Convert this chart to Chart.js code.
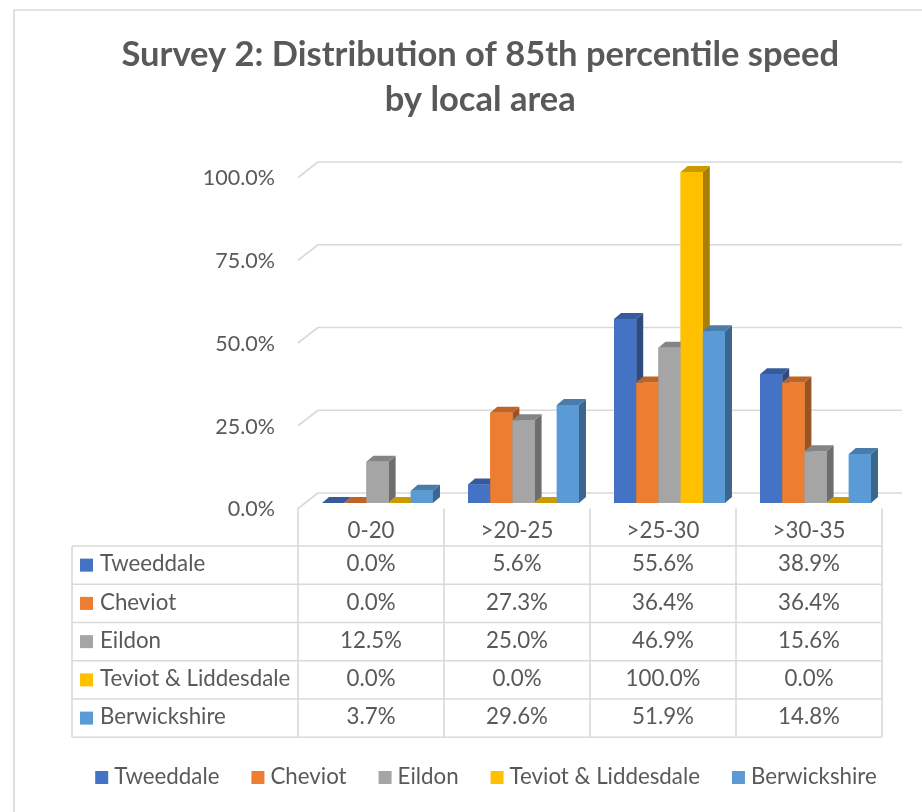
<!DOCTYPE html>
<html>
<head>
<meta charset="utf-8">
<script src="https://cdn.jsdelivr.net/npm/chart.js@4.4.1/dist/chart.umd.min.js"></script>
<style>
  html, body { margin: 0; padding: 0; background: #ffffff; }
  #wrap { position: relative; width: 922px; height: 812px; }
  canvas { display: block; }
</style>
</head>
<body>
<div id="wrap"><canvas id="chart" width="922" height="812"></canvas></div>
<script>
// Speed bands (mph) and share of sites per local area, in percent
const categories = ['0-20', '>20-25', '>25-30', '>30-35'];
const seriesNames = ['Tweeddale', 'Cheviot', 'Eildon', 'Teviot & Liddesdale', 'Berwickshire'];
const tweeddale = [0.0, 5.6, 55.6, 38.9];
const cheviot = [0.0, 27.3, 36.4, 36.4];
const eildon = [12.5, 25.0, 46.9, 15.6];
const teviotLiddesdale = [0.0, 0.0, 100.0, 0.0];
const berwickshire = [3.7, 29.6, 51.9, 14.8];
const yTicks = [0, 25, 50, 75, 100];
const seriesColors = ['#4472C4', '#ED7D31', '#A5A5A5', '#FFC000', '#5B9BD5'];

const seriesValues = [tweeddale, cheviot, eildon, teviotLiddesdale, berwickshire];

const TEXT = '#595959';
const LINE = '#d9d9d9';
const FONT = 'Lato, "Open Sans", sans-serif';

// depth of each column, and offsets of the front / back walls from the bar plane
const DEPTH = { dx: 7, dy: 6 };
const FRONT = { dx: -6.5, dy: 5.5 };
const BACK = { dx: 13.5, dy: -10 };

function shade(hex, f) {
  const n = parseInt(hex.slice(1), 16);
  const r = Math.round(((n >> 16) & 255) * f);
  const g = Math.round(((n >> 8) & 255) * f);
  const b = Math.round((n & 255) * f);
  return `rgb(${r},${g},${b})`;
}
const pct = v => v.toFixed(1) + '%';

// Back-wall gridlines with the slanted lead-in from the front plane, plus y labels
const wallPlugin = {
  id: 'wall',
  beforeDatasetsDraw(chart) {
    const { ctx, chartArea: a, scales: { y } } = chart;
    ctx.save();
    ctx.strokeStyle = LINE;
    ctx.lineWidth = 1.6;
    ctx.lineJoin = 'round';
    ctx.font = `21.5px ${FONT}`;
    ctx.fillStyle = TEXT;
    ctx.textAlign = 'right';
    ctx.textBaseline = 'middle';
    yTicks.forEach(v => {
      const py = y.getPixelForValue(v);
      ctx.beginPath();
      ctx.moveTo(a.left + FRONT.dx, py + FRONT.dy);
      ctx.lineTo(a.left + BACK.dx, py + BACK.dy);
      ctx.lineTo(a.right + BACK.dx, py + BACK.dy);
      ctx.stroke();
      ctx.fillText(pct(v), 275, py + FRONT.dy + 1);
    });
    ctx.restore();
  }
};

// Extrudes each bar into a box: side and top faces, then the front face again
// so the next bar in the cluster hides the side of the previous one
const boxPlugin = {
  id: 'boxes',
  afterDatasetsDraw(chart) {
    const { ctx } = chart;
    const metas = seriesValues.map((_, i) => chart.getDatasetMeta(i));
    ctx.save();
    categories.forEach((_, ci) => {
      metas.forEach((meta, si) => {
        const el = meta.data[ci];
        if (!el) return;
        const { x, y, base, width } = el.getProps(['x', 'y', 'base', 'width'], true);
        const l = x - width / 2, r = x + width / 2;
        const c = seriesColors[si];
        // side
        ctx.fillStyle = shade(c, 0.66);
        ctx.beginPath();
        ctx.moveTo(r, y);
        ctx.lineTo(r + DEPTH.dx, y - DEPTH.dy);
        ctx.lineTo(r + DEPTH.dx, base - DEPTH.dy);
        ctx.lineTo(r, base);
        ctx.closePath();
        ctx.fill();
        // top
        ctx.fillStyle = shade(c, 0.8);
        ctx.beginPath();
        ctx.moveTo(l, y);
        ctx.lineTo(l + DEPTH.dx, y - DEPTH.dy);
        ctx.lineTo(r + DEPTH.dx, y - DEPTH.dy);
        ctx.lineTo(r, y);
        ctx.closePath();
        ctx.fill();
        // front
        ctx.fillStyle = c;
        ctx.fillRect(l, y, width, base - y);
      });
    });
    ctx.restore();
  }
};

// Data table under the plot, legend row and outer frame
const tablePlugin = {
  id: 'dataTable',
  afterDraw(chart) {
    const { ctx, chartArea: a, scales: { x, y } } = chart;
    const cw = (a.right - a.left) / categories.length;
    const colEdge = i => x.getPixelForValue(0) - cw / 2 + FRONT.dx + i * cw;
    const tableLeft = 72;
    const headTop = y.getPixelForValue(0) + FRONT.dy;
    const headBottom = 546;
    const rowH = 38.25;
    const rowTop = k => headBottom + k * rowH;
    const tableBottom = rowTop(seriesNames.length);

    ctx.save();
    ctx.strokeStyle = LINE;
    ctx.lineWidth = 1.6;
    // vertical rules
    for (let i = 0; i <= categories.length; i++) {
      const cx = colEdge(i);
      ctx.beginPath();
      ctx.moveTo(cx, headTop);
      ctx.lineTo(cx, tableBottom);
      ctx.stroke();
    }
    ctx.beginPath();
    ctx.moveTo(tableLeft, headBottom);
    ctx.lineTo(tableLeft, tableBottom);
    ctx.stroke();
    // horizontal rules
    for (let k = 0; k <= seriesNames.length; k++) {
      ctx.beginPath();
      ctx.moveTo(tableLeft, rowTop(k));
      ctx.lineTo(colEdge(categories.length), rowTop(k));
      ctx.stroke();
    }

    ctx.font = `22.3px ${FONT}`;
    ctx.fillStyle = TEXT;
    ctx.textBaseline = 'middle';
    ctx.textAlign = 'center';
    categories.forEach((cat, i) => {
      ctx.fillText(cat, (colEdge(i) + colEdge(i + 1)) / 2, (headTop + headBottom) / 2 + 4);
    });
    seriesNames.forEach((name, k) => {
      const mid = rowTop(k) + rowH / 2;
      ctx.fillStyle = seriesColors[k];
      ctx.fillRect(80, mid - 6.5, 13, 13);
      ctx.fillStyle = TEXT;
      ctx.textAlign = 'left';
      ctx.fillText(name, 100, mid - 1);
      ctx.textAlign = 'center';
      seriesValues[k].forEach((v, i) => {
        ctx.fillText(pct(v), (colEdge(i) + colEdge(i + 1)) / 2, mid - 1);
      });
    });

    // legend
    const keySize = 13, keyGap = 6, itemGap = 32, legendY = 777.5;
    const widths = seriesNames.map(n => ctx.measureText(n).width);
    const total = widths.reduce((s, w) => s + keySize + keyGap + w, 0) + itemGap * (seriesNames.length - 1);
    let lx = 486 - total / 2;
    ctx.textAlign = 'left';
    seriesNames.forEach((name, k) => {
      ctx.fillStyle = seriesColors[k];
      ctx.fillRect(lx, legendY - keySize / 2, keySize, keySize);
      ctx.fillStyle = TEXT;
      ctx.fillText(name, lx + keySize + keyGap, legendY - 0.5);
      lx += keySize + keyGap + widths[k] + itemGap;
    });

    // outer frame
    ctx.beginPath();
    ctx.moveTo(14, 812);
    ctx.lineTo(14, 10);
    ctx.lineTo(922, 10);
    ctx.stroke();
    ctx.restore();
  }
};

new Chart(document.getElementById('chart'), {
  type: 'bar',
  data: {
    labels: categories,
    datasets: seriesNames.map((name, i) => ({
      label: name,
      data: seriesValues[i],
      backgroundColor: seriesColors[i],
      borderWidth: 0,
      categoryPercentage: 0.76,
      barPercentage: 1.0
    }))
  },
  options: {
    responsive: false,
    animation: false,
    devicePixelRatio: 1,
    layout: { padding: { left: 72, right: 33.5, top: 10, bottom: 0 } },
    plugins: {
      legend: { display: false },
      tooltip: { enabled: false },
      title: {
        display: true,
        text: ['Survey 2: Distribution of 85th percentile speed', 'by local area'],
        color: TEXT,
        font: { family: FONT, size: 34.5, weight: 'bold', lineHeight: 45 / 34.5 },
        padding: { top: 22.5, bottom: 49.5 }
      }
    },
    scales: {
      x: {
        grid: { display: false },
        border: { display: false },
        ticks: { display: false },
        afterFit(s) { s.height = 309; }
      },
      y: {
        min: 0,
        max: 100,
        ticks: { display: false, stepSize: 25 },
        grid: { display: false },
        border: { display: false },
        afterFit(s) { s.width = 232.5; }
      }
    }
  },
  plugins: [wallPlugin, boxPlugin, tablePlugin]
});
</script>
</body>
</html>
